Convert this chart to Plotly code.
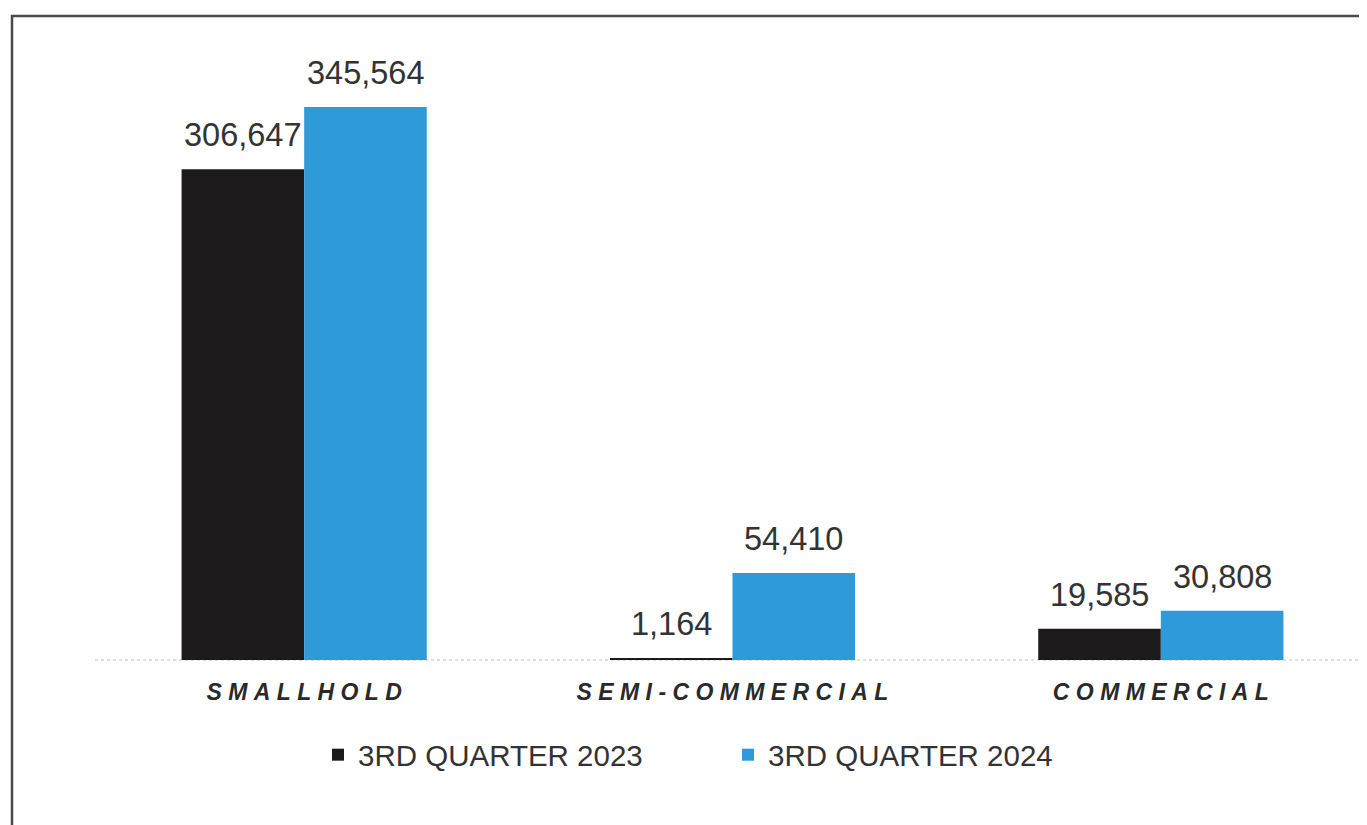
import plotly.graph_objects as go

categories = ["SMALLHOLD", "SEMI-COMMERCIAL", "COMMERCIAL"]
series_names = ["3RD QUARTER 2023", "3RD QUARTER 2024"]
values_2023 = [306647, 1164, 19585]
values_2024 = [345564, 54410, 30808]
colors = ["#1c1a1b", "#2e9ad8"]

W, H = 1367, 825
OFF = 8  # page body margin


def px(x):
    return (x - OFF) / W


def py(y):
    return 1 - (y - OFF) / H


def spaced(s):
    return "\u00a0".join(list(s))


tick_text = [spaced(c) for c in categories]

fig = go.Figure()
for name, vals, col in zip(series_names, [values_2023, values_2024], colors):
    fig.add_trace(go.Bar(
        x=categories, y=vals, name=name, marker_color=col,
        marker_line_width=0,
    ))

annotations = []
bar_px = 122.5
for k, vals in enumerate([values_2023, values_2024]):
    shift = (-bar_px / 2) if k == 0 else (bar_px / 2)
    for c, v in zip(categories, vals):
        annotations.append(dict(
            x=c, y=v, xref="x", yref="y", text=f"{v:,}", showarrow=False,
            xanchor="center", yanchor="bottom", xshift=shift, yshift=14,
            font=dict(family="Liberation Sans, Arial", size=32.5, color="#333333"),
        ))

y_base = py(660)
y_top = py(20)

shapes = [
    # outer frame of the scanned chart
    dict(type="rect", xref="paper", yref="paper",
         x0=px(12), x1=1.02, y0=-0.05, y1=py(16),
         line=dict(color="#4a4a4a", width=2.5), fillcolor="rgba(0,0,0,0)", layer="below"),
    # faint dotted baseline
    dict(type="line", xref="paper", yref="paper",
         x0=px(95), x1=1, y0=y_base, y1=y_base,
         line=dict(color="#d6d0e0", width=1.5, dash="dot"), layer="below"),
]

fig.update_layout(
    width=W, height=H,
    margin=dict(l=0, r=0, t=0, b=0),
    paper_bgcolor="white", plot_bgcolor="white",
    barmode="group", bargap=0.4276, bargroupgap=0,
    xaxis=dict(domain=[px(90), 1], range=[-0.5, 2.5], showgrid=False, zeroline=False,
               showline=False, ticks="", tickmode="array", tickvals=categories,
               ticktext=tick_text,
               tickfont=dict(family="Liberation Sans, Arial", size=23, color="#2a2a2a",
                             weight="bold", style="italic"),
               ticklabelstandoff=16),
    yaxis=dict(domain=[y_base, y_top], range=[0, 400000], visible=False),
    showlegend=True,
    legend=dict(orientation="h", x=px(318), xanchor="left", y=py(729), yanchor="top",
                font=dict(family="Liberation Sans, Arial", size=29.5, color="#333333"),
                entrywidth=365, entrywidthmode="pixels", itemwidth=30,
                bgcolor="rgba(0,0,0,0)", traceorder="normal"),
    annotations=annotations,
    shapes=shapes,
)

fig.write_html("out.html")
